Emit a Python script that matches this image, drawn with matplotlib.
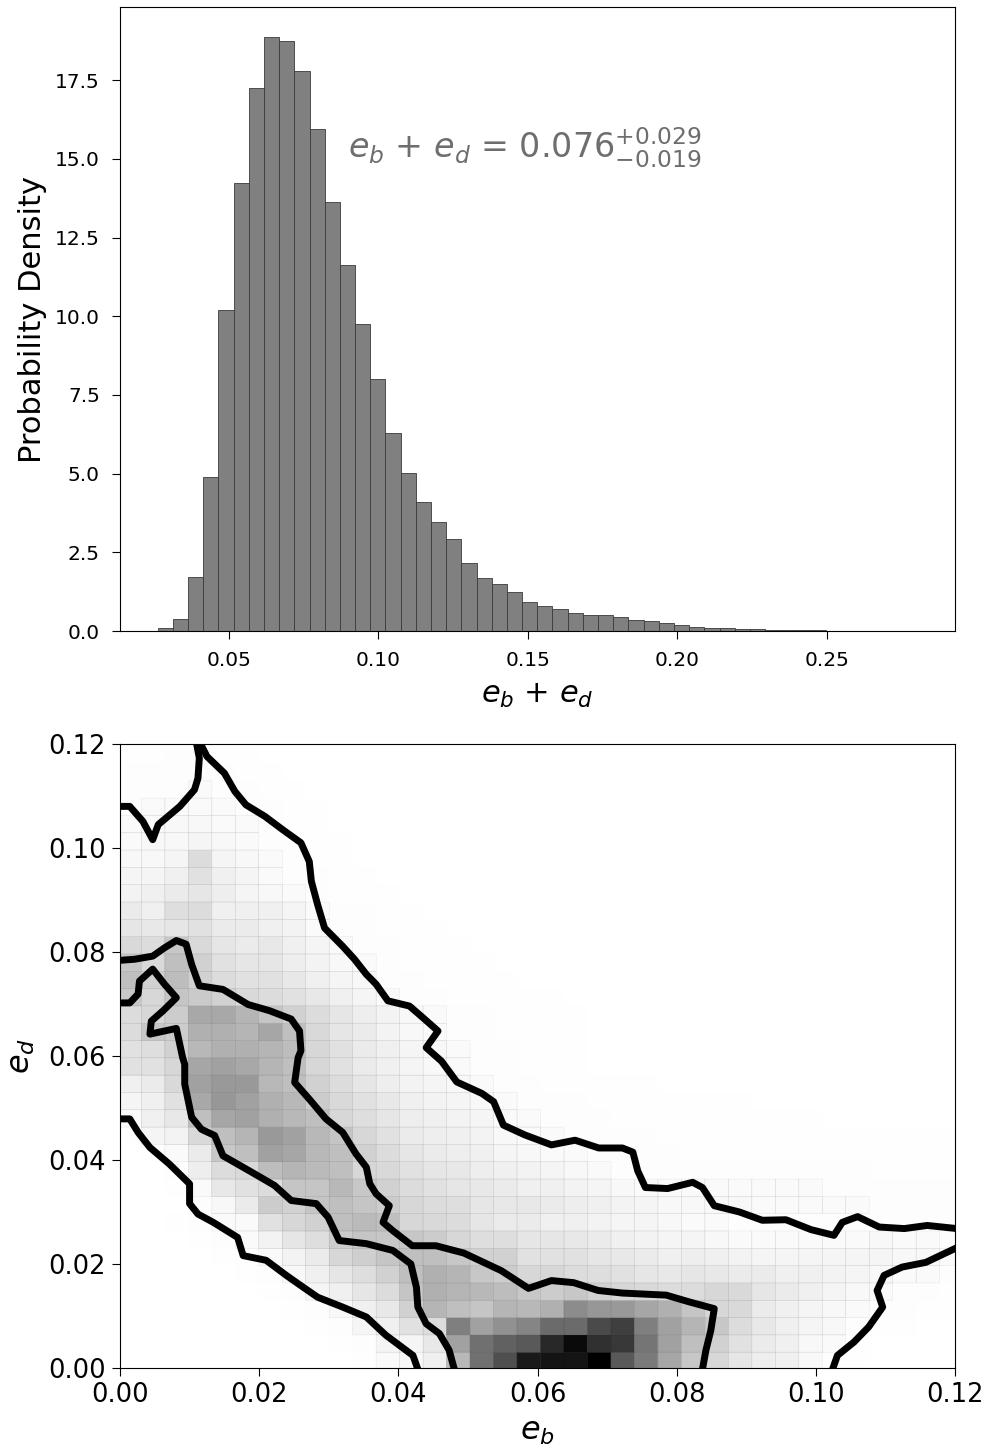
import numpy as np
import matplotlib
matplotlib.use("Agg")
import matplotlib.pyplot as plt
from matplotlib.colors import ListedColormap

# ---------------- top panel: 1-D histogram of e_b + e_d ----------------
hist_x0 = 0.0263          # left edge of first bin
hist_bw = 0.005075        # bin width
hist_density = [0.09, 0.38, 1.73, 4.89, 10.19, 14.23, 17.25, 18.88, 18.73, 17.78,
                15.95, 13.62, 11.63, 9.74, 8.01, 6.28, 5.02, 4.10, 3.46, 2.92,
                2.16, 1.69, 1.49, 1.25, 0.92, 0.81, 0.70, 0.57, 0.50, 0.50,
                0.44, 0.34, 0.31, 0.24, 0.18, 0.13, 0.085, 0.085, 0.06, 0.05,
                0.04, 0.04, 0.02, 0.04, 0.01, 0.01, 0.01, 0.005, 0.005, 0.005]
hist_yticks = [0.0, 2.5, 5.0, 7.5, 10.0, 12.5, 15.0, 17.5]
hist_xticks = [0.05, 0.10, 0.15, 0.20, 0.25]
summary_text = r"$e_b$ + $e_d$ = $0.076^{+0.029}_{-0.019}$"

# ---------------- bottom panel: 2-D histogram (relative darkness, %) ----------------
grid_x0, grid_dx = -0.0003, 0.003374
grid_y0, grid_dy = -0.0003, 0.00333
# rows from bottom (e_d small) to top, 36 columns each (e_b from 0 to 0.12)
dens_rows = [
 [0,0,0,0,0,0,0,0,0,0, 0.5,2,3,6,28,56,69,90,92,92, 100,65,52,35,22,16,10,7,6,3, 1,0.5,0,0,0,0],
 [0,0,0,0,0,0,0,0,0,0.5, 1,4,4,9,37,56,62,65,84,96, 81,78,54,37,25,18,12,8,6,3, 2,0.5,0,0,0,0],
 [0,0,0,0,0,0,0,0,0.5,1, 4,6,12,14,50,37,43,48,58,58, 71,75,50,37,29,22,14,9,6,4, 3,1,0.5,0.5,0,0],
 [0,0,0,0,0,0,0,0.5,1,3, 6,9,18,29,25,23,29,28,31,45, 41,40,35,31,23,16,15,8,6,4, 3,2,1,1,0.5,0.5],
 [0,0,0,0,0,0.3,0.5,1,4,6, 10,14,23,31,29,28,26,22,20,22, 18,16,15,14,14,16,15,10,8,6, 4,3,2,1,1,0.5],
 [0,0,0,0,0.3,0.5,1,3,6,10, 13,18,25,31,29,22,20,16,16,14, 13,12,10,9,10,9,8,8,6,6, 5,4,3,2,2,1],
 [0,0,0,0.3,0.5,1,2,5,8,16, 19,23,25,25,22,18,18,12,12,12, 10,9,8,6,7,6,5,4,4,4, 4,4,4,3,3,2],
 [0,0,0.3,0.5,1,2,5,10,13,20, 23,22,22,20,16,13,13,10,10,9, 8,6,5,4,4,3,2,2,2,2, 2,2,3,2,2,1],
 [0,0,0.5,1,2,2,12,16,18,25, 27,25,16,15,14,10,8,8,6,6, 5,4,4,3,2,2,1,1,1,1, 1,1,1,1,1,1],
 [0,0,0.3,1,3,8,20,18,23,25, 23,20,16,14,13,10,9,9,8,7, 6,5,4,3,3,3,3,2,2,2, 2,2,1,1,1,1],
 [0,0,0.5,2,9,12,14,23,23,28, 22,18,14,12,10,9,8,6,6,5, 4,3,2,2,2,2,2,2,2,2, 1,1,1,1,1,1],
 [0,0.3,1,7,14,15,26,29,27,25, 16,15,12,10,9,7,6,5,4,3, 2,1,1,1,1,1,1,1,1,1, 1,1,0.5,0.5,0.5,0.5],
 [0,0.5,2,8,22,25,37,35,28,25, 18,14,10,8,7,6,4,3,2,2, 1,1,1,1,0.5,0.5,0.5,0.5,0.5,0.5, 0.5,0.5,0.5,0.5,0.5,0.5],
 [0.5,4,5,15,25,29,40,37,28,23, 16,12,8,7,6,5,3,2,2,1, 1,1,1,0.5,0.5,0.5,0.5,0.5,0.5,0.5, 0.5,0.5,0.5,0.5,0.5,0.5],
 [2,6,9,25,35,37,31,28,25,16, 13,10,7,6,5,4,2,2,1,1, 1,0.5,0.5,0.5,0.5,0.5,0.5,0.5,0.5,0.5, 0.3,0.3,0.3,0.3,0.3,0.3],
 [4,6,12,34,41,37,31,28,20,15, 12,9,6,5,4,3,2,1,1,1, 0.5,0.5,0.5,0.5,0.5,0.5,0.5,0.3,0.3,0.3, 0.3,0.3,0.3,0.3,0.3,0.3],
 [6,8,15,37,40,40,28,25,18,14, 10,7,5,4,3,2,1,1,0.5,0.5, 0.5,0.5,0.5,0.3,0.3,0.3,0.3,0.3,0.3,0.3, 0.3,0.3,0.3,0.3,0.3,0.3],
 [12,12,16,35,37,34,29,25,16,12, 8,6,4,3,2,1,1,0.5,0.5,0.5, 0.3,0.3,0.3,0.3,0.3,0.3,0.3,0.3,0.3,0.3, 0.3,0.3,0.3,0.3,0.3,0.3],
 [12,13,18,28,31,31,29,26,16,12, 8,6,4,3,2,1,1,0.5,0.5,0.5, 0.3,0.3,0.3,0.3,0.3,0.3,0.3,0.3,0.3,0.3, 0.3,0.3,0.3,0.3,0.3,0.3],
 [14,22,20,31,31,29,35,25,15,10, 8,5,3,2,1,1,0.5,0.5,0.5,0.5, 0.3,0.3,0.3,0.3,0.3,0.3,0.3,0.3,0.3,0.3, 0.3,0.3,0.3,0.3,0.3,0.3],
 [14,16,20,34,34,29,23,18,14,10, 7,5,3,2,1,1,0.5,0.5,0.5,0.5, 0.3,0.3,0.3,0.3,0.3,0.3,0.3,0.3,0.3,0.3, 0.3,0.3,0.3,0.3,0.3,0.3],
 [22,16,23,21,18,15,14,12,9,6, 4,2,1,1,0.5,0.5,0.5,0.5,0.5,0.3, 0.3,0.3,0.3,0.3,0.3,0.3,0.3,0.3,0.3,0.3, 0.3,0.3,0.3,0.3,0.3,0.3],
 [25,18,26,18,14,12,12,9,6,4, 3,1,1,0.5,0.5,0.5,0.5,0.3,0.3,0.3, 0.3,0.3,0.3,0.3,0.3,0.3,0.3,0.3,0.3,0.3, 0.3,0.3,0.3,0.3,0.3,0.3],
 [22,15,25,18,12,10,10,7,5,3, 2,1,0.5,0.5,0.5,0.5,0.3,0.3,0.3,0.3, 0.3,0.3,0.3,0.3,0.3,0.3,0.3,0.3,0.3,0.3, 0.3,0.3,0.3,0.3,0.3,0.3],
 [15,14,22,15,10,8,9,6,4,2, 1,1,0.5,0.5,0.5,0.3,0.3,0.3,0.3,0.3, 0.3,0.3,0.3,0.3,0.3,0.3,0.3,0.3,0.3,0.3, 0.3,0.3,0.3,0.3,0.3,0.3],
 [10,9,10,12,8,8,6,5,2,1, 1,0.5,0.5,0.5,0.3,0.3,0.3,0.3,0.3,0.3, 0.3,0.3,0.3,0.3,0.3,0.3,0.3,0.3,0.3,0.3, 0.3,0.3,0.3,0.3,0.3,0.3],
 [8,6,13,14,6,6,6,4,2,1, 1,0.5,0.5,0.3,0.3,0.3,0.3,0.3,0.3,0.3, 0.3,0.3,0.3,0.3,0.3,0.3,0.3,0.3,0.3,0.3, 0.3,0.3,0.3,0.3,0.3,0.3],
 [5,6,8,10,7,4,3,2,1,0.5, 0.5,0.5,0.3,0.3,0.3,0.3,0.3,0.3,0.3,0.3, 0.3,0.3,0.3,0.3,0.3,0.3,0.3,0.3,0.3,0.3, 0.3,0.3,0.3,0.3,0.3,0.3],
 [4,4,6,12,6,4,2,1,1,0.5, 0.5,0.3,0.3,0.3,0.3,0.3,0.3,0.3,0.3,0.3, 0.3,0.3,0.3,0.3,0.3,0.3,0.3,0.3,0.3,0.3, 0.3,0.3,0.3,0.3,0.3,0.3],
 [3,3,4,14,4,3,2,1,0.5,0.5, 0.3,0.3,0.3,0.3,0.3,0.3,0.3,0.3,0.3,0.3, 0.3,0.3,0.3,0.3,0.3,0.3,0.3,0.3,0.3,0.3, 0.3,0.3,0.3,0.3,0.3,0.3],
 [2,3,3,4,3,2,1,1,0.5,0.5, 0.3,0.3,0.3,0.3,0.3,0.3,0.3,0.3,0.3,0.3, 0.3,0.3,0.3,0.3,0.3,0.3,0.3,0.3,0.3,0.3, 0.3,0.3,0.3,0.3,0.3,0.3],
 [2,2,3,3,2,2,1,0.5,0.5,0.3, 0.3,0.3,0.3,0.3,0.3,0.3,0.3,0.3,0.3,0.3, 0.3,0.3,0.3,0.3,0.3,0.3,0.3,0.3,0.3,0.3, 0.3,0.3,0.3,0.3,0.3,0.3],
 [1,2,2,2,2,1,1,0.5,0.5,0.3, 0.3,0.3,0.3,0.3,0.3,0.3,0.3,0.3,0.3,0.3, 0.3,0.3,0.3,0.3,0.3,0.3,0.3,0.3,0.3,0.3, 0.3,0.3,0.3,0.3,0.3,0.3],
 [1,1,1,2,1,1,0.5,0.5,0.3,0.3, 0.3,0.3,0.3,0.3,0.3,0.3,0.3,0.3,0.3,0.3, 0.3,0.3,0.3,0.3,0.3,0.3,0.3,0.3,0.3,0.3, 0.3,0.3,0.3,0.3,0.3,0.3],
 [1,1,1,1,1,0.5,0.5,0.3,0.3,0.3, 0.3,0.3,0.3,0.3,0.3,0.3,0.3,0.3,0.3,0.3, 0.3,0.3,0.3,0.3,0.3,0.3,0.3,0.3,0.3,0.3, 0.3,0.3,0.3,0.3,0.3,0.3],
 [0.5,0.5,1,1,0.5,0.5,0.3,0.3,0.3,0.3, 0.3,0.3,0.3,0.3,0.3,0.3,0.3,0.3,0.3,0.3, 0.3,0.3,0.3,0.3,0.3,0.3,0.3,0.3,0.3,0.3, 0.3,0.3,0.3,0.3,0.3,0.3],
 [0.5,0.5,0.5,0.5,0.5,0.3,0.3,0.3,0.3,0.3, 0.3,0.3,0.3,0.3,0.3,0.3,0.3,0.3,0.3,0.3, 0.3,0.3,0.3,0.3,0.3,0.3,0.3,0.3,0.3,0.3, 0.3,0.3,0.3,0.3,0.3,0.3],
]

# contour paths (e_b, e_d)
outer_a_x = [-0.001, 0.0014, 0.0033, 0.0047, 0.0055, 0.0086, 0.0107, 0.0112, 0.0114, 0.0108]
outer_a_y = [0.108, 0.108, 0.1051, 0.1016, 0.1045, 0.108, 0.1112, 0.1134, 0.1173, 0.1215]
outer_b_x = [0.0110, 0.0125, 0.0150, 0.0165, 0.0181, 0.0208, 0.0234, 0.0260, 0.0272, 0.0275,
             0.0284, 0.0294, 0.0320, 0.0337, 0.0354, 0.0368, 0.0385, 0.0416, 0.0435, 0.0457,
             0.0440, 0.0462, 0.0484, 0.0520, 0.0537, 0.0551, 0.0582, 0.0620, 0.0654, 0.0688,
             0.0722, 0.0737, 0.0744, 0.0755, 0.0787, 0.0823, 0.0837, 0.0854, 0.0890, 0.0923,
             0.0957, 0.0993, 0.1026, 0.1038, 0.1060, 0.1091, 0.1127, 0.1160, 0.1210]
outer_b_y = [0.1215, 0.1176, 0.1144, 0.1109, 0.1083, 0.1061, 0.1035, 0.1010, 0.0974, 0.0936,
             0.0891, 0.0846, 0.0811, 0.0786, 0.0757, 0.0738, 0.0706, 0.0696, 0.0674, 0.0648,
             0.0616, 0.0590, 0.0550, 0.0528, 0.0512, 0.0467, 0.0448, 0.0429, 0.0438, 0.0423,
             0.0423, 0.0415, 0.0379, 0.0347, 0.0345, 0.0357, 0.0347, 0.0312, 0.0300, 0.0284,
             0.0285, 0.0266, 0.0255, 0.0280, 0.0291, 0.0271, 0.0268, 0.0274, 0.0267]
outer_c_x = [-0.001, 0.0014, 0.0026, 0.0043, 0.0071, 0.0100, 0.0100, 0.0112, 0.0134, 0.0169,
             0.0177, 0.0210, 0.0239, 0.0256, 0.0284, 0.0320, 0.0354, 0.0382, 0.0421, 0.0430]
outer_c_y = [0.0479, 0.0479, 0.0453, 0.0424, 0.0392, 0.0354, 0.0316, 0.0296, 0.0280, 0.0251,
             0.0216, 0.0207, 0.0178, 0.0162, 0.0136, 0.0117, 0.0098, 0.0063, 0.0024, -0.001]
outer_d_x = [0.1022, 0.1031, 0.1055, 0.1076, 0.1096, 0.1088, 0.1098, 0.1124, 0.1158, 0.1210]
outer_d_y = [-0.001, 0.0024, 0.0050, 0.0079, 0.0117, 0.0149, 0.0178, 0.0194, 0.0203, 0.0236]
inner_top_x = [-0.001, 0.0021, 0.0047, 0.0064, 0.0081, 0.0095, 0.0103, 0.0114, 0.0148, 0.0184,
               0.0215, 0.0246, 0.0258, 0.0260, 0.0256, 0.0251, 0.0272, 0.0296, 0.0320, 0.0339,
               0.0354, 0.0359, 0.0368, 0.0387, 0.0378, 0.0392, 0.0420, 0.0454, 0.0494, 0.0548,
               0.0587, 0.0620, 0.0652, 0.0687, 0.0722, 0.0785, 0.0818, 0.0854, 0.0849, 0.0842, 0.0836]
inner_top_y = [0.0783, 0.0786, 0.0792, 0.0808, 0.0822, 0.0815, 0.0776, 0.0735, 0.0728, 0.0699,
               0.0687, 0.0671, 0.0648, 0.0610, 0.0597, 0.0549, 0.0517, 0.0479, 0.0453, 0.0412,
               0.0386, 0.0354, 0.0335, 0.0312, 0.0280, 0.0264, 0.0235, 0.0235, 0.0221, 0.0187,
               0.0153, 0.0168, 0.0164, 0.0149, 0.0144, 0.0140, 0.0127, 0.0114, 0.0072, 0.0034, -0.001]
inner_bot_x = [-0.001, 0.0014, 0.0026, 0.0028, 0.0047, 0.0064, 0.0081, 0.0062, 0.0045, 0.0043,
               0.0081, 0.0090, 0.0093, 0.0093, 0.0103, 0.0117, 0.0136, 0.0148, 0.0186, 0.0222,
               0.0246, 0.0282, 0.0299, 0.0315, 0.0354, 0.0392, 0.0418, 0.0426, 0.0428, 0.0440,
               0.0459, 0.0473, 0.0482]
inner_bot_y = [0.0702, 0.0702, 0.0719, 0.0744, 0.0767, 0.0738, 0.0712, 0.0687, 0.0667, 0.0642,
               0.0653, 0.0597, 0.0584, 0.0546, 0.0482, 0.0459, 0.0447, 0.0408, 0.0379, 0.0351,
               0.0322, 0.0316, 0.0290, 0.0245, 0.0239, 0.0226, 0.0200, 0.0155, 0.0117, 0.0085,
               0.0066, 0.0034, -0.001]
grid_ticks = [0.00, 0.02, 0.04, 0.06, 0.08, 0.10, 0.12]

# ---------------- figure ----------------
fig = plt.figure(figsize=(9.86, 14.5), dpi=100)
ax1 = fig.add_axes([0.1217, 0.5648, 0.8469, 0.4303])
ax2 = fig.add_axes([0.1217, 0.0566, 0.8469, 0.4303])

edges = hist_x0 + hist_bw * np.arange(len(hist_density))
ax1.bar(edges, hist_density, width=hist_bw, align='edge', color='#808080',
        edgecolor='#3a3a3a', linewidth=0.6)
ax1.set_xlim(0.0137, 0.2928)
ax1.set_ylim(0, 19.82)
ax1.set_yticks(hist_yticks)
ax1.set_yticklabels([f"{v:.1f}" for v in hist_yticks])
ax1.set_xticks(hist_xticks)
ax1.set_xticklabels([f"{v:.2f}" for v in hist_xticks])
ax1.tick_params(labelsize=14.5, length=6, pad=8.5)
ax1.set_ylabel("Probability Density", fontsize=22, labelpad=6)
ax1.set_xlabel(r"$e_b$ + $e_d$", fontsize=22, labelpad=8)
ax1.text(0.09, 15.0, summary_text, fontsize=24, color='#6e6e6e')

D = np.array(dens_rows, dtype=float)
X = grid_x0 + grid_dx * np.arange(D.shape[1] + 1)
Y = grid_y0 + grid_dy * np.arange(D.shape[0] + 1)
ax2.pcolor(X, Y, np.ma.masked_less(D, 0.2), cmap='gray_r', vmin=0, vmax=100,
           edgecolors='face', linewidth=0.3)
# faint seams between filled cells
ax2.pcolor(X, Y, np.ma.masked_less(D, 2.0), cmap=ListedColormap([(0, 0, 0, 0)]),
           edgecolors=(0, 0, 0, 0.08), linewidth=0.4)
lw = 5.0
for xs, ys in [(outer_a_x, outer_a_y), (outer_b_x, outer_b_y), (outer_c_x, outer_c_y),
               (outer_d_x, outer_d_y), (inner_top_x, inner_top_y), (inner_bot_x, inner_bot_y)]:
    ax2.plot(xs, ys, color='black', lw=lw, solid_joinstyle='round', solid_capstyle='butt')
ax2.set_xlim(0, 0.12)
ax2.set_ylim(0, 0.12)
ax2.set_xticks(grid_ticks)
ax2.set_yticks(grid_ticks)
ax2.set_xticklabels([f"{v:.2f}" for v in grid_ticks])
ax2.set_yticklabels([f"{v:.2f}" for v in grid_ticks])
ax2.tick_params(labelsize=18.5, length=6, pad=4)
ax2.set_xlabel(r"$e_b$", fontsize=23, labelpad=6)
ax2.set_ylabel(r"$e_d$", fontsize=23, labelpad=8)

fig.savefig("out.png", dpi=100)
